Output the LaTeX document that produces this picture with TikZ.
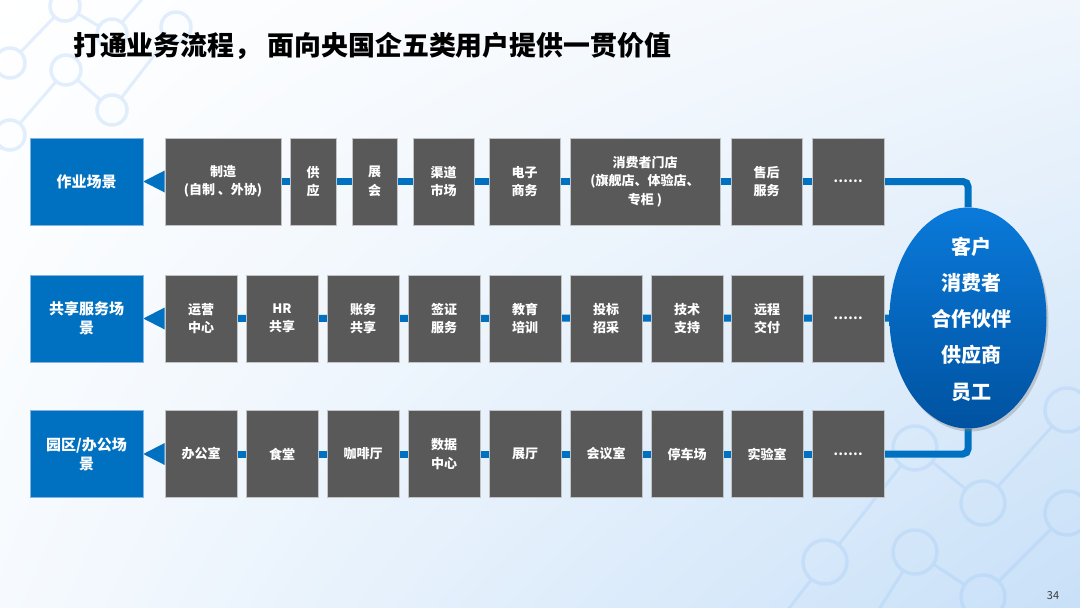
\documentclass[tikz,border=0pt]{standalone}
\usepackage{fontspec}
\setmainfont{Noto Sans CJK SC}
\usetikzlibrary{arrows.meta,shapes.geometric,shadows,shadings,calc}
\pgfdeclarelayer{bg0}
\pgfdeclarelayer{bg1}
\pgfsetlayers{bg0,bg1,main}
\definecolor{lblue}{RGB}{0,112,192}
\definecolor{dgray}{RGB}{89,89,89}
\definecolor{decor}{RGB}{150,195,245}
\definecolor{bgbr}{RGB}{200,224,248}
\definecolor{bgtr}{RGB}{240,246,252}
\definecolor{bgbl}{RGB}{246,250,254}
\definecolor{ellt}{RGB}{10,122,218}
\definecolor{ellb}{RGB}{0,82,160}
\definecolor{boxedge}{RGB}{195,195,195}
\definecolor{labedge}{RGB}{130,180,225}
\definecolor{pgnum}{RGB}{60,60,60}
\tikzset{
  lab/.style={fill=lblue, draw=labedge, line width=0.6pt, text=white,
    font=\bfseries\fontsize{15}{19}\selectfont, align=center,
    minimum width=113pt, minimum height=87pt, inner sep=0pt},
  dbox/.style={fill=dgray, draw=boxedge, line width=0.6pt, text=white,
    font=\bfseries\fontsize{13}{18.5}\selectfont, align=center,
    minimum height=87pt, inner sep=0pt},
  conn/.style={draw=lblue, line width=7pt},
  deco/.style={circle, draw=decor, draw opacity=0.26, line width=3.5pt,
    minimum size=30pt, inner sep=0pt},
  bigdeco/.style={deco, minimum size=44pt},
  decl/.style={draw=decor, draw opacity=0.26, line width=3pt},
}
\begin{document}
\begin{tikzpicture}[x=1pt,y=-1pt]
\useasboundingbox (0,0) rectangle (1080,608);
\begin{pgfonlayer}{bg0}
\shade[upper left=white, upper right=bgtr, lower left=bgbl, lower right=bgbr]
  (0,0) rectangle (1080,608);
% decorative network, top left
\node[deco] (dA) at (65,6) {};
\node[deco] (dB) at (112,34) {};
\node[deco] (dC) at (176,27) {};
\node[deco] (dD) at (10,63) {};
\node[deco] (dE) at (66,70) {};
\node[deco] (dF) at (112,110) {};
\node[deco] (dG) at (10,135) {};
\coordinate (oA) at (150,-10);
\coordinate (oB) at (-10,160);
\draw[decl] (dA) -- (dD);
\draw[decl] (dA) -- (dB);
\draw[decl] (dE) -- (dG);
\draw[decl] (dE) -- (dF);
\draw[decl] (dF) -- (dC);
\draw[decl] (dB) -- (oA);
\draw[decl] (dG) -- (oB);
% decorative network, bottom right
\node[bigdeco] (dP1) at (825,562) {};
\node[bigdeco] (dP2) at (915,448) {};
\node[bigdeco] (dP3) at (983,503) {};
\node[bigdeco] (dP4) at (1067,410) {};
\node[bigdeco] (dP5) at (915,552) {};
\node[bigdeco] (dP6) at (1067,513) {};
\node[bigdeco] (dP7) at (983,597) {};
\coordinate (oP1) at (860,640);
\coordinate (oP2) at (1110,360);
\coordinate (oP3) at (1110,470);
\coordinate (oP4) at (780,620);
\draw[decl] (dP1) -- (dP2);
\draw[decl] (dP2) -- (dP3);
\draw[decl] (dP3) -- (dP4);
\draw[decl] (dP5) -- (dP7);
\draw[decl] (dP7) -- (dP6);
\draw[decl] (dP5) -- (oP1);
\draw[decl] (dP4) -- (oP2);
\draw[decl] (dP6) -- (oP3);
\draw[decl] (dP1) -- (oP4);
\end{pgfonlayer}

% title
\node[anchor=west, font=\bfseries\fontsize{26.9}{30}\selectfont, inner sep=0pt] (title)
  at (73,46) {打通业务流程， 面向央国企五类用户提供一贯价值};

% row 1
\node[lab] (l1) at (86.5,181.5) {作业场景};
\node[dbox, minimum width=116pt] (a1) at (223,181.5) {制造\\(自制 、外协)};
\node[dbox, minimum width=46pt] (a2) at (313,181.5) {供\\应};
\node[dbox, minimum width=45pt] (a3) at (374.5,181.5) {展\\会};
\node[dbox, minimum width=61pt] (a4) at (443.5,181.5) {渠道\\市场};
\node[dbox, minimum width=71pt] (a5) at (524.5,181.5) {电子\\商务};
\node[dbox, minimum width=150pt] (a6) at (645,181.5) {消费者门店\\(旗舰店、体验店、\\专柜 )};
\node[dbox, minimum width=71pt] (a7) at (766.5,181.5) {售后\\服务};
\node[dbox, minimum width=72pt] (a8) at (848,181.5) {……};

% row 2
\node[lab] (l2) at (86.5,318.5) {共享服务场\\景};
\node[dbox, minimum width=72pt] (b1) at (201,318.5) {运营\\中心};
\node[dbox, minimum width=72pt] (b2) at (282,318.5) {HR\\共享};
\node[dbox, minimum width=72pt] (b3) at (363,318.5) {账务\\共享};
\node[dbox, minimum width=72pt] (b4) at (444,318.5) {签证\\服务};
\node[dbox, minimum width=72pt] (b5) at (525,318.5) {教育\\培训};
\node[dbox, minimum width=72pt] (b6) at (606,318.5) {投标\\招采};
\node[dbox, minimum width=72pt] (b7) at (687,318.5) {技术\\支持};
\node[dbox, minimum width=72pt] (b8) at (767,318.5) {远程\\交付};
\node[dbox, minimum width=72pt] (b9) at (848,318.5) {……};

% row 3
\node[lab] (l3) at (86.5,454) {园区/办公场\\景};
\node[dbox, minimum width=72pt] (c1) at (201,454) {办公室};
\node[dbox, minimum width=72pt] (c2) at (282,454) {食堂};
\node[dbox, minimum width=72pt] (c3) at (363,454) {咖啡厅};
\node[dbox, minimum width=72pt] (c4) at (444,454) {数据\\中心};
\node[dbox, minimum width=72pt] (c5) at (525,454) {展厅};
\node[dbox, minimum width=72pt] (c6) at (606,454) {会议室};
\node[dbox, minimum width=72pt] (c7) at (687,454) {停车场};
\node[dbox, minimum width=72pt] (c8) at (767,454) {实验室};
\node[dbox, minimum width=72pt] (c9) at (848,454) {……};

% user ellipse
\node[ellipse, minimum width=157pt, minimum height=221pt, inner sep=0pt,
  top color=ellt, bottom color=ellb,
  drop shadow={opacity=0.35, shadow xshift=2pt, shadow yshift=-3pt}] (ell) at (968,318) {};
\node[text=white, font=\bfseries\fontsize{20}{36.3}\selectfont, align=center, inner sep=0pt]
  (ellt) at (971,319) {客户\\消费者\\合作伙伴\\供应商\\员工};

% page number
\node[font=\fontsize{11}{13}\selectfont, text=pgnum, inner sep=0pt] (pg) at (1053,596) {34};

% connectors
\begin{pgfonlayer}{bg1}
\draw[conn] (a1.center) -- (a8.center);
\draw[conn, rounded corners=5pt] (a8.center) -| (ell.north);
\fill[lblue] (l1.east) -- ($(a1.west)+(0,-11)$) -- ($(a1.west)+(0,11)$) -- cycle;
\draw[conn] (b1.center) -- (ell.west);
\fill[lblue] (l2.east) -- ($(b1.west)+(0,-11)$) -- ($(b1.west)+(0,11)$) -- cycle;
\draw[conn] (c1.center) -- (c9.center);
\draw[conn, rounded corners=5pt] (c9.center) -| (ell.south);
\fill[lblue] (l3.east) -- ($(c1.west)+(0,-11)$) -- ($(c1.west)+(0,11)$) -- cycle;
\end{pgfonlayer}
\end{tikzpicture}
\end{document}
